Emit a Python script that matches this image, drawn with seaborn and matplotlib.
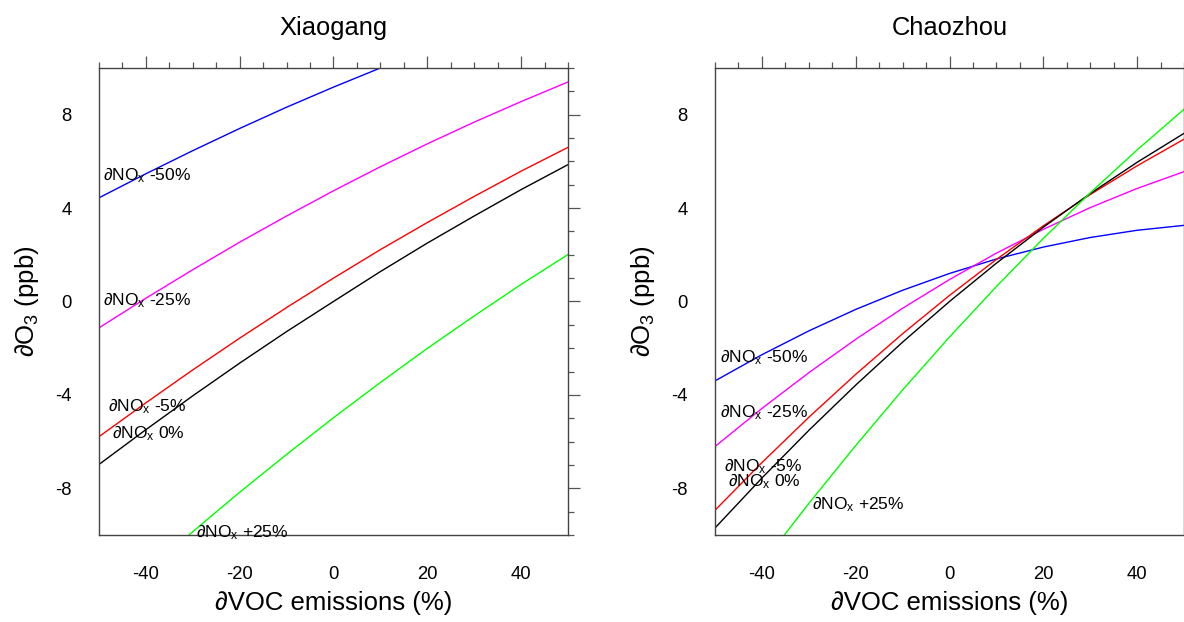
import pandas as pd
import matplotlib
matplotlib.use("Agg")
import matplotlib.pyplot as plt
from matplotlib.ticker import MultipleLocator
import seaborn as sns

# DATA
voc = [-50, -40, -30, -20, -10, 0, 10, 20, 30, 40, 50]
nox_levels = ["-50%", "-25%", "-5%", "0%", "+25%"]

# Xiaogang
xg_m50 = [4.44, 5.47, 6.46, 7.41, 8.32, 9.18, 10.00, 10.77, 11.5, 12.2, 12.9]
xg_m25 = [-1.13, 0.14, 1.36, 2.54, 3.66, 4.74, 5.77, 6.75, 7.68, 8.56, 9.40]
xg_m05 = [-5.79, -4.34, -2.93, -1.57, -0.26, 1.00, 2.22, 3.38, 4.50, 5.58, 6.60]
xg_p00 = [-6.98, -5.49, -4.04, -2.64, -1.29, 0.00, 1.28, 2.50, 3.66, 4.79, 5.86]
xg_p25 = [-13.39, -11.59, -9.86, -8.17, -6.55, -4.98, -3.47, -2.01, -0.62, 0.73, 2.01]

# Chaozhou
cz_m50 = [-3.40, -2.28, -1.26, -0.34, 0.48, 1.20, 1.82, 2.33, 2.74, 3.05, 3.26]
cz_m25 = [-6.21, -4.58, -3.05, -1.62, -0.29, 0.94, 2.07, 3.09, 4.02, 4.84, 5.56]
cz_m05 = [-8.94, -6.90, -4.96, -3.12, -1.38, 0.26, 1.80, 3.24, 4.58, 5.81, 6.95]
cz_p00 = [-9.70, -7.56, -5.52, -3.58, -1.74, 0.00, 1.64, 3.18, 4.62, 5.96, 7.20]
cz_p25 = [-13.94, -11.24, -8.65, -6.17, -3.79, -1.52, 0.64, 2.70, 4.65, 6.49, 8.23]

sites = ["Xiaogang", "Chaozhou"]
site_series = {
    "Xiaogang": [xg_m50, xg_m25, xg_m05, xg_p00, xg_p25],
    "Chaozhou": [cz_m50, cz_m25, cz_m05, cz_p00, cz_p25],
}

# label anchors (x, y in data units) for each NOx curve
label_pos = {
    "Xiaogang": [(-49.2, 5.42), (-49.2, 0.05), (-48.0, -4.47), (-47.3, -5.64), (-29.4, -9.9)],
    "Chaozhou": [(-48.9, -2.37), (-48.9, -4.72), (-48.0, -7.04), (-47.3, -7.70), (-29.4, -8.69)],
}

palette = {"-50%": "#0000ff", "-25%": "#ff00ff", "-5%": "#ff0000", "0%": "#000000", "+25%": "#00ff00"}

# long-form table
rows = []
for site in sites:
    for lev, vals in zip(nox_levels, site_series[site]):
        for x, y in zip(voc, vals):
            rows.append({"site": site, "NOx": lev, "VOC": x, "O3": y})
df = pd.DataFrame(rows)

sns.set_style("white")
plt.rcParams["font.family"] = ["Liberation Sans", "DejaVu Sans"]
plt.rcParams["mathtext.fontset"] = "custom"
plt.rcParams["mathtext.rm"] = "Liberation Sans"
plt.rcParams["mathtext.it"] = "Liberation Sans"
plt.rcParams["axes.unicode_minus"] = False
plt.rcParams["text.color"] = "black"
plt.rcParams["axes.labelcolor"] = "black"

fig = plt.figure(figsize=(11.84, 6.22), dpi=100)
ax_boxes = [[0.0836, 0.1399, 0.3961, 0.7508], [0.6039, 0.1399, 0.3961, 0.7508]]

for site, box in zip(sites, ax_boxes):
    ax = fig.add_axes(box)
    sub = df[df["site"] == site]
    sns.lineplot(data=sub, x="VOC", y="O3", hue="NOx", hue_order=nox_levels,
                 palette=palette, legend=False, linewidth=1.0, ax=ax)

    ax.set_xlim(-50, 50)
    ax.set_ylim(-10, 10)
    ax.set_xticks([-40, -20, 0, 20, 40])
    ax.xaxis.set_minor_locator(MultipleLocator(5))
    ax.set_yticks([-8, -4, 0, 4, 8])
    ax.yaxis.set_minor_locator(MultipleLocator(1))

    for sp in ax.spines.values():
        sp.set_visible(True)
        sp.set_color("#444444")
        sp.set_linewidth(1.0)
    ax.tick_params(which="both", direction="out", top=True, right=True,
                   color="#555555", width=0.9, labelsize=13.3, labelcolor="black")
    ax.tick_params(which="major", length=8.6)
    ax.tick_params(which="minor", length=4.3)
    ax.tick_params(axis="x", pad=13.5)
    ax.tick_params(axis="y", pad=11)

    ax.set_xlabel("\u2202VOC emissions (%)", fontsize=18.5, labelpad=6)
    ax.set_ylabel("\u2202O$_3$ (ppb)", fontsize=18.5, labelpad=10)
    ax.set_title(site, fontsize=18.4, pad=24)

    for lev, (tx, ty) in zip(nox_levels, label_pos[site]):
        ax.text(tx, ty, "\u2202NO$_\\mathregular{x}$ " + lev, fontsize=12.5,
                ha="left", va="center", color="black")

fig.savefig("out.png", dpi=100)
